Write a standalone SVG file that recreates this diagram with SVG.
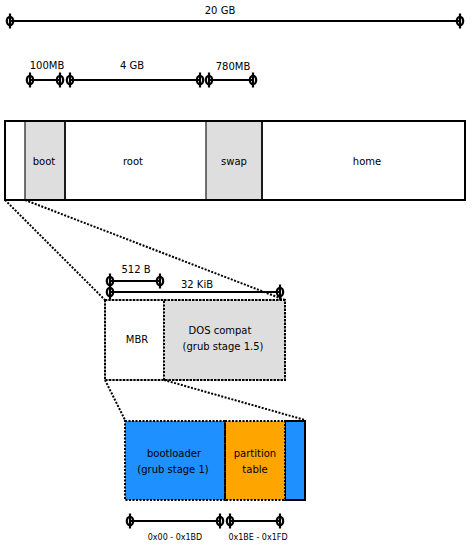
<svg xmlns="http://www.w3.org/2000/svg" xmlns:xlink="http://www.w3.org/1999/xlink" width="472" height="552" viewBox="0 0 472 552">
<style>
text{font-family:"DejaVu Sans","Liberation Sans",sans-serif;font-size:10px;fill:#000;text-anchor:middle}
.small{font-size:8px}
.dim{stroke:#000;stroke-width:2;fill:none}
.dot{stroke:#000;stroke-width:2;stroke-dasharray:2 1.5;fill:none}
.part{stroke:#000;stroke-width:1.5}
.gray{fill:#dedede}
.white{fill:#fff}
</style>
<defs>
<g id="tick">
<line x1="0" y1="-7.5" x2="0" y2="7.5" stroke="#000" stroke-width="2.2"/>
<ellipse cx="0" cy="0" rx="3.2" ry="4.2" fill="none" stroke="#000" stroke-width="2.2"/>
</g>
</defs>
<rect width="472" height="552" fill="#fff"/>
<g id="connectors">
<line class="dot" x1="5" y1="200" x2="105" y2="300"/>
<line class="dot" x1="25" y1="200" x2="285" y2="300"/>
<line class="dot" x1="105" y1="380" x2="125" y2="420"/>
<line class="dot" x1="164" y1="380" x2="305" y2="420"/>
</g>
<g id="dim-total">
<line class="dim" x1="10" y1="21" x2="460" y2="21"/>
<use xlink:href="#tick" x="10" y="21"/>
<use xlink:href="#tick" x="460" y="21"/>
<text x="220" y="14">20 GB</text>
</g>
<g id="dim-parts">
<line class="dim" x1="30" y1="80" x2="60" y2="80"/>
<line class="dim" x1="70" y1="80" x2="200" y2="80"/>
<line class="dim" x1="209" y1="80" x2="253" y2="80"/>
<use xlink:href="#tick" x="30" y="80"/>
<use xlink:href="#tick" x="60" y="80"/>
<use xlink:href="#tick" x="70" y="80"/>
<use xlink:href="#tick" x="200" y="80"/>
<use xlink:href="#tick" x="209" y="80"/>
<use xlink:href="#tick" x="253" y="80"/>
<text x="47" y="69">100MB</text>
<text x="132" y="69">4 GB</text>
<text x="233" y="70">780MB</text>
</g>
<g id="disk">
<rect x="5" y="121" width="460" height="79" fill="#fff" stroke="#000" stroke-width="2"/>
<rect x="25" y="121" width="40" height="79" class="gray" stroke="#444" stroke-width="1.5"/>
<rect x="206" y="121" width="56" height="79" class="gray" stroke="#444" stroke-width="1.5"/>
<line x1="65" y1="121" x2="65" y2="200" stroke="#000" stroke-width="1.5"/>
<line x1="262" y1="121" x2="262" y2="200" stroke="#000" stroke-width="1.5"/>
<rect x="5" y="121" width="460" height="79" fill="none" stroke="#000" stroke-width="2"/>
<text x="44" y="165">boot</text>
<text x="133" y="165">root</text>
<text x="234" y="165">swap</text>
<text x="367" y="165">home</text>
</g>
<g id="dim-mbr">
<line class="dim" x1="110" y1="281" x2="160" y2="281"/>
<line class="dim" x1="110" y1="292" x2="280" y2="292"/>
<use xlink:href="#tick" x="110" y="281"/>
<use xlink:href="#tick" x="160" y="281"/>
<use xlink:href="#tick" x="110" y="292"/>
<use xlink:href="#tick" x="280" y="292"/>
<text x="136" y="273">512 B</text>
<text x="197" y="288">32 KiB</text>
</g>
<g id="mbr-area">
<rect x="105" y="300" width="59" height="80" class="white" stroke="#555" stroke-width="1"/>
<rect x="164" y="300" width="121" height="80" class="gray"/>
<rect x="164" y="300" width="121" height="80" class="dot"/>
<rect x="105" y="300" width="180" height="80" class="dot"/>
<text x="137" y="343">MBR</text>
<text x="220" y="334">DOS compat</text>
<text x="223" y="350">(grub stage 1.5)</text>
</g>
<g id="mbr-detail">
<rect x="285" y="421" width="20" height="79" fill="#1e90ff" stroke="#000" stroke-width="2"/>
<rect x="125" y="421" width="100" height="79" fill="#1e90ff"/>
<rect x="225" y="421" width="60" height="79" fill="#ffa500"/>
<rect x="125" y="421" width="100" height="79" class="dot"/>
<rect x="225" y="421" width="60" height="79" class="dot"/>
<text x="174" y="457">bootloader</text>
<text x="173" y="473">(grub stage 1)</text>
<text x="255" y="457">partition</text>
<text x="255" y="473">table</text>
</g>
<g id="dim-detail">
<line class="dim" x1="130" y1="521" x2="220" y2="521"/>
<line class="dim" x1="230" y1="521" x2="280" y2="521"/>
<use xlink:href="#tick" x="130" y="521"/>
<use xlink:href="#tick" x="220" y="521"/>
<use xlink:href="#tick" x="230" y="521"/>
<use xlink:href="#tick" x="280" y="521"/>
<text class="small" x="175" y="540">0x00 - 0x1BD</text>
<text class="small" x="258" y="540">0x1BE - 0x1FD</text>
</g>
</svg>
